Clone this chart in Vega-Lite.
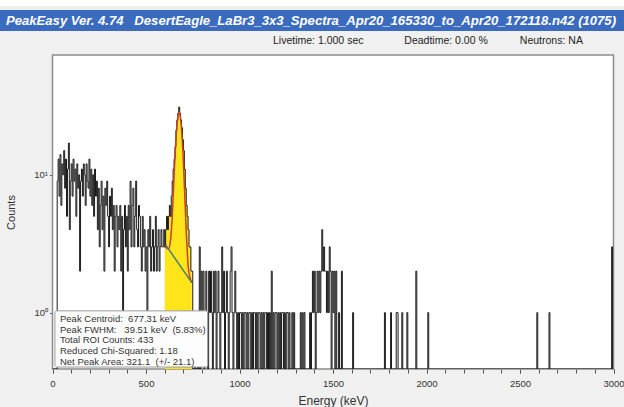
{
"$schema": "https://vega.github.io/schema/vega-lite/v6.json",
"padding": 0,
"spacing": 4,
"background": "#f0f0f0",
"config": {"font": "Liberation Sans", "view": {"stroke": null}, "axis": {"labelOverlap": false, "labelFlush": false}},
"datasets": {
"spec": [
{"e":0,"c":0},{"e":25,"c":9},{"e":30,"c":13},{"e":35,"c":7},{"e":40,"c":14},{"e":45,"c":6},{"e":50,"c":12},{"e":55,"c":10},{"e":60,"c":15},{"e":65,"c":8},{"e":70,"c":13},{"e":75,"c":5},{"e":80,"c":11},{"e":85,"c":17},{"e":90,"c":4},{"e":95,"c":9},{"e":100,"c":12},{"e":105,"c":7},{"e":110,"c":13},{"e":115,"c":9},{"e":120,"c":11},{"e":125,"c":5},{"e":130,"c":12},{"e":135,"c":8},{"e":140,"c":10},{"e":145,"c":2},{"e":150,"c":9},{"e":155,"c":11},{"e":160,"c":7},{"e":165,"c":12},{"e":170,"c":10},{"e":175,"c":6},{"e":180,"c":12},{"e":185,"c":9},{"e":190,"c":8},{"e":195,"c":13},{"e":200,"c":7},{"e":205,"c":11},{"e":210,"c":6},{"e":215,"c":10},{"e":220,"c":5},{"e":225,"c":11},{"e":230,"c":7},{"e":235,"c":9},{"e":240,"c":4},{"e":245,"c":8},{"e":250,"c":3},{"e":255,"c":6},{"e":260,"c":9},{"e":265,"c":4},{"e":270,"c":7},{"e":275,"c":2},{"e":280,"c":8},{"e":285,"c":6},{"e":290,"c":9},{"e":295,"c":5},{"e":300,"c":3},{"e":305,"c":7},{"e":310,"c":5},{"e":315,"c":8},{"e":320,"c":4},{"e":325,"c":6},{"e":330,"c":2},{"e":335,"c":5},{"e":340,"c":6},{"e":345,"c":3},{"e":350,"c":5},{"e":355,"c":4},{"e":360,"c":6},{"e":365,"c":2},{"e":370,"c":5},{"e":375,"c":1},{"e":380,"c":4},{"e":385,"c":6},{"e":390,"c":3},{"e":395,"c":5},{"e":400,"c":2},{"e":405,"c":6},{"e":410,"c":4},{"e":415,"c":9},{"e":420,"c":3},{"e":425,"c":6},{"e":430,"c":8},{"e":435,"c":3},{"e":440,"c":5},{"e":445,"c":9},{"e":450,"c":4},{"e":455,"c":3},{"e":460,"c":6},{"e":465,"c":5},{"e":470,"c":3},{"e":475,"c":2},{"e":480,"c":5},{"e":485,"c":3},{"e":490,"c":4},{"e":495,"c":2},{"e":500,"c":3},{"e":505,"c":1},{"e":510,"c":4},{"e":515,"c":3},{"e":520,"c":5},{"e":525,"c":2},{"e":530,"c":3},{"e":535,"c":4},{"e":540,"c":2},{"e":545,"c":3},{"e":550,"c":5},{"e":555,"c":2},{"e":560,"c":3},{"e":565,"c":4},{"e":570,"c":2},{"e":575,"c":3},{"e":580,"c":4},{"e":585,"c":3},
{"e":590,"c":3},{"e":595,"c":4},{"e":600,"c":3},{"e":605,"c":4},{"e":610,"c":5},{"e":615,"c":4},{"e":620,"c":5},{"e":625,"c":6},{"e":630,"c":5},{"e":635,"c":7},{"e":640,"c":9},{"e":645,"c":11},{"e":650,"c":13},{"e":655,"c":16},{"e":660,"c":21},{"e":665,"c":25},{"e":670,"c":28},{"e":675,"c":31},{"e":680,"c":28},{"e":685,"c":25},{"e":690,"c":22},{"e":695,"c":18},{"e":700,"c":15},{"e":705,"c":11},{"e":710,"c":8},{"e":715,"c":6},{"e":720,"c":5},{"e":725,"c":4},{"e":730,"c":3},{"e":735,"c":3},{"e":740,"c":2},{"e":745,"c":2},
{"e":750,"c":0},{"e":760,"c":1},{"e":765,"c":0},{"e":775,"c":1},{"e":780,"c":0},{"e":785,"c":3},{"e":790,"c":0},{"e":795,"c":2},{"e":800,"c":1},{"e":805,"c":2},{"e":810,"c":0},{"e":815,"c":1},{"e":820,"c":2},{"e":825,"c":1},{"e":830,"c":0},{"e":835,"c":2},{"e":840,"c":1},{"e":845,"c":2},{"e":850,"c":1},{"e":855,"c":0},{"e":860,"c":2},{"e":865,"c":1},{"e":870,"c":2},{"e":875,"c":0},{"e":880,"c":1},{"e":885,"c":2},{"e":890,"c":1},{"e":895,"c":0},{"e":900,"c":1},{"e":905,"c":3},{"e":910,"c":1},{"e":915,"c":2},{"e":920,"c":0},{"e":925,"c":1},{"e":930,"c":2},{"e":935,"c":1},{"e":940,"c":0},{"e":945,"c":1},{"e":950,"c":2},{"e":955,"c":3},{"e":960,"c":1},{"e":965,"c":0},{"e":970,"c":1},{"e":975,"c":2},{"e":980,"c":1},{"e":985,"c":0},{"e":990,"c":1},{"e":995,"c":0},{"e":1000,"c":1},{"e":1010,"c":0},{"e":1015,"c":1},{"e":1020,"c":0},{"e":1025,"c":1},{"e":1035,"c":0},{"e":1040,"c":1},{"e":1045,"c":0},{"e":1050,"c":1},{"e":1060,"c":0},{"e":1065,"c":1},{"e":1070,"c":0},{"e":1075,"c":1},{"e":1085,"c":0},{"e":1090,"c":1},{"e":1095,"c":0},{"e":1100,"c":1},{"e":1110,"c":0},{"e":1115,"c":1},{"e":1120,"c":0},{"e":1125,"c":1},{"e":1130,"c":0},{"e":1135,"c":1},{"e":1145,"c":0},{"e":1150,"c":1},{"e":1155,"c":0},{"e":1160,"c":1},{"e":1165,"c":0},{"e":1170,"c":2},{"e":1175,"c":0},{"e":1180,"c":1},{"e":1185,"c":0},{"e":1190,"c":1},{"e":1200,"c":0},{"e":1205,"c":1},{"e":1210,"c":0},{"e":1215,"c":1},{"e":1220,"c":0},{"e":1225,"c":1},{"e":1235,"c":0},{"e":1240,"c":1},{"e":1245,"c":0},{"e":1250,"c":1},{"e":1260,"c":0},{"e":1265,"c":1},{"e":1270,"c":0},{"e":1280,"c":1},{"e":1285,"c":0},{"e":1290,"c":1},{"e":1295,"c":0},{"e":1325,"c":1},{"e":1330,"c":0},{"e":1335,"c":1},{"e":1340,"c":0},{"e":1345,"c":1},{"e":1350,"c":0},{"e":1375,"c":1},{"e":1380,"c":0},{"e":1385,"c":1},{"e":1390,"c":2},{"e":1395,"c":1},{"e":1400,"c":2},{"e":1405,"c":0},{"e":1410,"c":1},{"e":1415,"c":2},{"e":1420,"c":1},{"e":1425,"c":2},{"e":1430,"c":1},{"e":1435,"c":2},{"e":1440,"c":4},{"e":1445,"c":2},{"e":1450,"c":3},{"e":1455,"c":2},{"e":1460,"c":2},{"e":1465,"c":1},{"e":1470,"c":2},{"e":1475,"c":1},{"e":1480,"c":3},{"e":1485,"c":2},{"e":1490,"c":0},{"e":1495,"c":2},{"e":1500,"c":1},{"e":1505,"c":2},{"e":1510,"c":0},{"e":1515,"c":2},{"e":1520,"c":0},{"e":1530,"c":1},{"e":1535,"c":0},{"e":1545,"c":2},{"e":1550,"c":0},{"e":1605,"c":1},{"e":1610,"c":0},{"e":1775,"c":1},{"e":1780,"c":0},{"e":1808,"c":1},{"e":1813,"c":0},{"e":1838,"c":1},{"e":1848,"c":0},{"e":1868,"c":1},{"e":1873,"c":0},{"e":1895,"c":1},{"e":1900,"c":0},{"e":1943,"c":2},{"e":1948,"c":0},{"e":2007,"c":1},{"e":2012,"c":0},{"e":2590,"c":1},{"e":2595,"c":0},{"e":2655,"c":1},{"e":2660,"c":0},{"e":2990,"c":3},{"e":2995,"c":0},{"e":3000,"c":0}
],
"fit": [
{"e":600,"c":3.0},{"e":610,"c":2.95},{"e":620,"c":2.9},{"e":630,"c":3.25},{"e":640,"c":4.9},{"e":650,"c":9.7},{"e":655,"c":13.5},{"e":660,"c":18},{"e":665,"c":22.5},{"e":670,"c":26},{"e":677,"c":28.5},{"e":684,"c":26},{"e":690,"c":21.5},{"e":695,"c":16.7},{"e":700,"c":12.5},{"e":705,"c":8.5},{"e":710,"c":5.8},{"e":715,"c":3.9},{"e":720,"c":2.9},{"e":725,"c":2.2},{"e":735,"c":1.8},{"e":745,"c":1.65}
],
"bg": [{"e":605,"c":3.1},{"e":745,"c":1.65}]
},
"vconcat": [
{
"width": 624, "height": 6,
"view": {"fill": "#ffffff", "stroke": null},
"data": {"values": []},
"mark": {"type": "point"},
"encoding": {}
},
{
"width": 624, "height": 21,
"view": {"fill": "#3b6bbf", "stroke": null},
"data": {"values": [{"t": "PeakEasy Ver. 4.74\u00a0\u00a0 DesertEagle_LaBr3_3x3_Spectra_Apr20_165330_to_Apr20_172118.n42 (1075)"}]},
"mark": {"type": "text", "align": "left", "baseline": "middle", "dx": 6, "fontSize": 13.1, "fontWeight": "bold", "fontStyle": "italic", "color": "#ffffff"},
"encoding": {
"text": {"field": "t"},
"x": {"datum": 0, "type": "quantitative", "scale": {"domain": [0, 1]}, "axis": null}
}
},
{
"width": 624, "height": 314,
"title": {"text": "Livetime: 1.000 sec\u00a0\u00a0\u00a0\u00a0\u00a0\u00a0\u00a0\u00a0\u00a0\u00a0\u00a0\u00a0\u00a0 Deadtime: 0.00 %\u00a0\u00a0\u00a0\u00a0\u00a0\u00a0\u00a0\u00a0\u00a0\u00a0 Neutrons: NA", "anchor": "start", "frame": "group", "dx": 273, "fontSize": 10.5, "fontWeight": "normal", "color": "#222222", "offset": 8},
"view": {"fill": null, "stroke": null},
"resolve": {"axis": {"x": "independent"}},
"layer": [
{"data": {"values": [{"frame": "plot"}]},
"mark": {"type": "rect", "fill": "#ffffff", "stroke": "#8c8c8c", "strokeWidth": 1.5},
"encoding": {
"x": {"datum": 0, "type": "quantitative",
"scale": {"domain": [0, 3000], "range": [52.5, 613.5], "nice": false, "zero": false},
"axis": {"orient": "bottom", "values": [0,100,200,300,400,500,600,700,800,900,1000,1100,1200,1300,1400,1500,1600,1700,1800,1900,2000,2100,2200,2300,2400,2500,2600,2700,2800,2900,3000],
"labels": false, "title": null, "tickSize": 4, "tickColor": "#555555", "domain": false, "grid": false}},
"x2": {"datum": 3000},
"y": {"datum": 0.39, "type": "quantitative", "title": "Counts",
"scale": {"type": "log", "domain": [0.39, 74], "nice": false, "clamp": true},
"axis": {"values": [1, 10], "labelExpr": "datum.value === 1 ? '10\u2070' : '10\u00b9'", "offset": -52.5, "tickSize": 3, "tickColor": "#555555", "labelPadding": 2, "labelFontSize": 9.5, "labelColor": "#333333",
"domain": false, "grid": false, "titleFontSize": 11, "titleFontWeight": "normal", "titleColor": "#333333", "titlePadding": 6, "minExtent": 30, "maxExtent": 30}},
"y2": {"datum": 74}}},
{"data": {"name": "spec"}, "transform": [{"filter": "datum.e >= 600 && datum.e <= 745"}],
"mark": {"type": "area", "interpolate": "step-after", "color": "#ffe51a", "clip": true},
"encoding": {
"x": {"field": "e", "type": "quantitative", "axis": null},
"y": {"field": "c", "type": "quantitative", "title": "Counts"}}},
{"data": {"name": "spec"},
"mark": {"type": "line", "interpolate": "step-after", "color": "#1a1a1a", "strokeWidth": 1, "clip": true},
"encoding": {
"x": {"field": "e", "type": "quantitative", "title": "Energy (keV)",
"axis": {"orient": "bottom", "values": [0, 500, 1000, 1500, 2000, 2500, 3000], "format": "d", "labelOverlap": false, "labelFlush": false, "labelBound": false,
"tickSize": 4, "tickColor": "#555555", "labelPadding": 5, "labelFontSize": 9.5, "labelColor": "#333333",
"domain": false, "grid": false, "titleFontSize": 12, "titleFontWeight": "normal", "titleColor": "#333333", "titlePadding": 8}},
"y": {"field": "c", "type": "quantitative", "title": "Counts"}}},
{"data": {"name": "fit"},
"mark": {"type": "line", "interpolate": "monotone", "color": "#c0432a", "strokeWidth": 1.5, "clip": true},
"encoding": {
"x": {"field": "e", "type": "quantitative", "axis": null},
"y": {"field": "c", "type": "quantitative", "title": "Counts"}}},
{"data": {"name": "bg"},
"mark": {"type": "line", "color": "#4d7a70", "strokeWidth": 1.5, "clip": true},
"encoding": {
"x": {"field": "e", "type": "quantitative", "axis": null},
"y": {"field": "c", "type": "quantitative", "title": "Counts"}}},
{"data": {"values": [{"box": "stats"}]},
"mark": {"type": "rect", "fill": "#fdfdfd", "stroke": "#9a9a9a", "strokeWidth": 1, "cornerRadius": 2},
"encoding": {
"x": {"datum": 13, "type": "quantitative", "axis": null},
"x2": {"datum": 830},
"y": {"datum": 1.03, "type": "quantitative", "title": "Counts"},
"y2": {"datum": 0.403}}},
{"data": {"values": [{"box": "stats"}]},
"mark": {"type": "text", "align": "left", "baseline": "top", "fontSize": 9.5, "lineHeight": 10.8, "color": "#333333",
"text": ["Peak Centroid:\u00a0 677.31 keV", "Peak FWHM:\u00a0\u00a0 39.51 keV\u00a0 (5.83%)", "Total ROI Counts: 433", "Reduced Chi-Squared: 1.18", "Net Peak Area: 321.1\u00a0 (+/- 21.1)"]},
"encoding": {
"x": {"datum": 40, "type": "quantitative", "axis": null},
"y": {"datum": 0.98, "type": "quantitative", "title": "Counts"}}}
]
}
]
}
